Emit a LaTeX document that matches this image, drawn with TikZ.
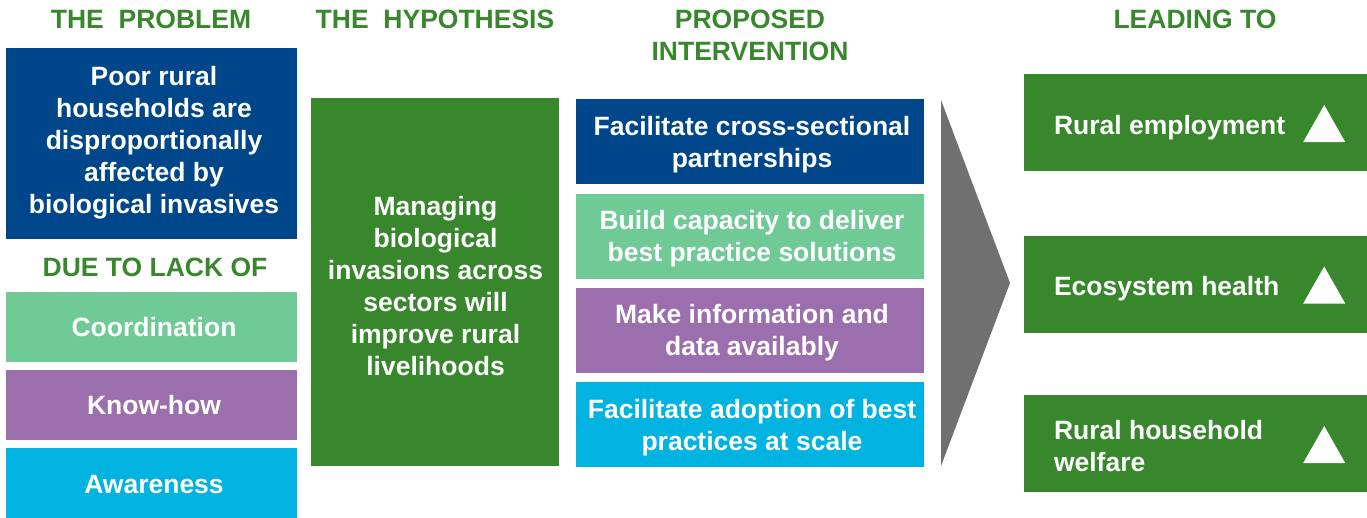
\documentclass[tikz,border=0pt]{standalone}
\usepackage{fontspec}
\setmainfont{Liberation Sans}
\usetikzlibrary{calc}

\definecolor{navy}{HTML}{00468B}
\definecolor{leaf}{HTML}{38872D}
\definecolor{mint}{HTML}{6FCA96}
\definecolor{lilac}{HTML}{9B6FAE}
\definecolor{sky}{HTML}{00B3E0}
\definecolor{slate}{HTML}{707070}

\tikzset{
  txt/.style={font=\fontsize{26.5}{32}\selectfont\bfseries},
  heading/.style={txt, text=leaf, align=center, inner sep=0pt},
  panel/.style={inner sep=0pt},
  label text/.style={txt, text=white, align=center, inner sep=0pt},
  out text/.style={txt, text=white, align=left, inner sep=0pt, anchor=west},
  outbox/.style={panel, fill=leaf, minimum width=343pt, minimum height=97pt},
  uptri/.style={fill=white}
}

\begin{document}
\begin{tikzpicture}[x=1pt,y=-1pt]
\useasboundingbox (0,0) rectangle (1367,517);

% column headings
\node[heading] (hprob) at (151,19) {THE\ \ PROBLEM};
\node[heading] (hhyp) at (435,19) {THE\ \ HYPOTHESIS};
\node[heading] (hint) at (750,35) {PROPOSED\\INTERVENTION};
\node[heading] (hlead) at (1195,19) {LEADING TO};

% the problem and its causes
\node[panel, fill=navy, minimum width=291pt, minimum height=191pt] (problem) at (151.5,143.5) {};
\node[label text] (problem-t) at ($(problem.center)+(2.5,-1)$)
  {Poor rural\\households are\\disproportionally\\affected by\\biological invasives};
\node[heading] (hlack) at (155,267) {DUE TO LACK OF};
\node[panel, fill=mint, minimum width=291pt, minimum height=69.5pt] (coord) at (151.5,326.75) {};
\node[label text] (coord-t) at ($(coord.center)+(2.5,0)$) {Coordination};
\node[panel, fill=lilac, minimum width=291pt, minimum height=69.5pt] (knowhow) at (151.5,405) {};
\node[label text] (knowhow-t) at ($(knowhow.center)+(2.5,0)$) {Know-how};
\node[panel, fill=sky, minimum width=291pt, minimum height=69.5pt] (aware) at (151.5,482.75) {};
\node[label text] (aware-t) at ($(aware.center)+(2.5,1.5)$) {Awareness};

% hypothesis
\node[panel, fill=leaf, minimum width=248pt, minimum height=368pt] (hyp) at (435,282) {};
\node[label text] (hyp-t) at ($(hyp.center)+(0.5,4)$)
  {Managing\\biological\\invasions across\\sectors will\\improve rural\\livelihoods};

% interventions
\node[panel, fill=navy, minimum width=348pt, minimum height=85pt] (int1) at (750,141.5) {};
\node[label text] (int1-t) at ($(int1.center)+(2,3)$) {Facilitate cross-sectional\\partnerships};
\node[panel, fill=mint, minimum width=348pt, minimum height=85pt] (int2) at (750,236.5) {};
\node[label text] (int2-t) at ($(int2.center)+(2,2)$) {Build capacity to deliver\\best practice solutions};
\node[panel, fill=lilac, minimum width=348pt, minimum height=85pt] (int3) at (750,330.5) {};
\node[label text] (int3-t) at ($(int3.center)+(2,2)$) {Make information and\\data availably};
\node[panel, fill=sky, minimum width=348pt, minimum height=85pt] (int4) at (750,424) {};
\node[label text] (int4-t) at ($(int4.center)+(2,4)$) {Facilitate adoption of best\\practices at scale};

% grey wedge pointing to the outcomes
\coordinate (wtop) at (941,100);
\coordinate (wbot) at (941,466);
\coordinate (wtip) at (1010,283);
\fill[slate] (wtop) -- (wtip) -- (wbot) -- cycle;

% outcomes
\node[outbox] (out1) at (1195.5,122.5) {};
\node[out text] (out1-t) at ($(out1.west)+(30,5.5)$) {Rural employment};
\node[outbox] (out2) at (1195.5,284) {};
\node[out text] (out2-t) at ($(out2.west)+(30,4.5)$) {Ecosystem health};
\node[outbox] (out3) at (1195.5,443.5) {};
\node[out text] (out3-t) at ($(out3.west)+(30,3)$) {Rural household\\welfare};

% rising markers
\foreach \o in {out1,out2,out3}{
  \fill[uptri] ([xshift=-64pt,yshift=-19.5pt]\o.east) -- ([xshift=-22pt,yshift=-19.5pt]\o.east)
    -- ([xshift=-43pt,yshift=17.5pt]\o.east) -- cycle;
}
\end{tikzpicture}
\end{document}
